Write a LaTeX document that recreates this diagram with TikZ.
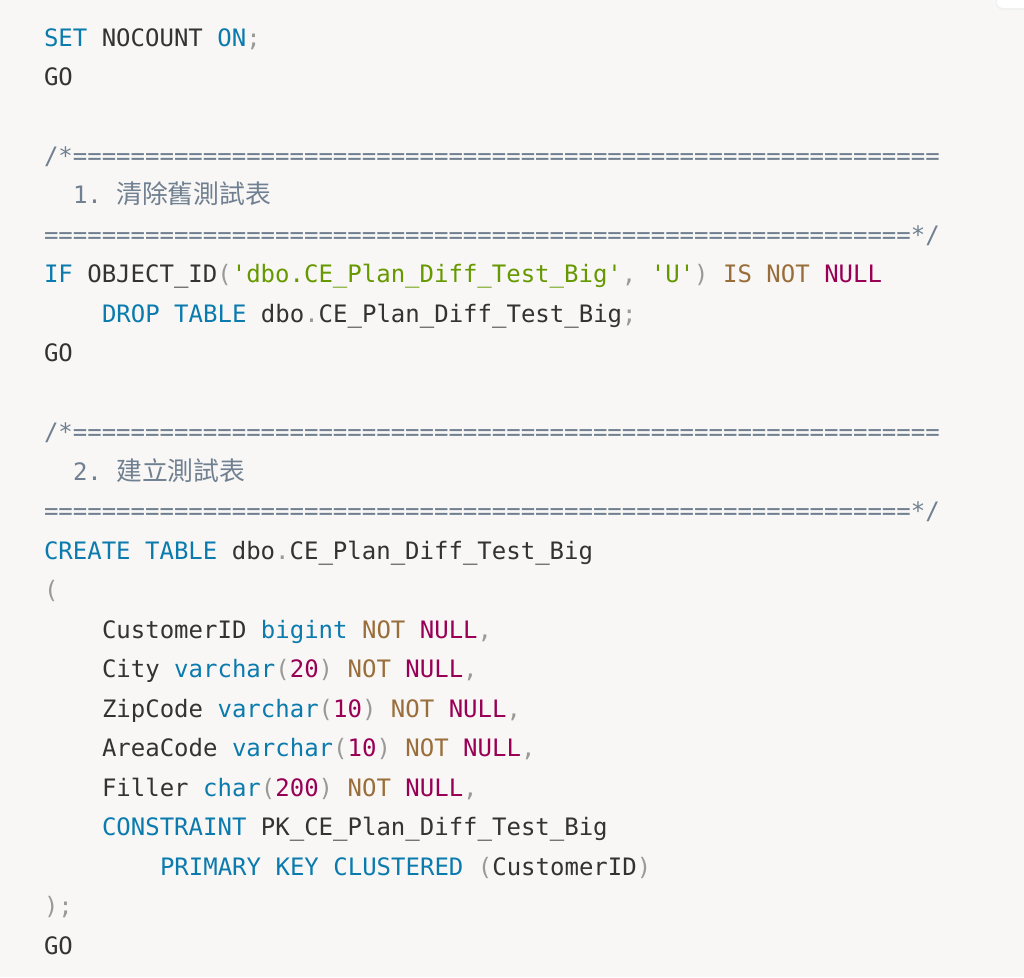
\documentclass[tikz,border=0pt]{standalone}
\usepackage{fontspec}
\usepackage{xcolor}
\setmonofont{DejaVu Sans Mono}
\newfontfamily\cjk{Noto Sans CJK TC}
\definecolor{bgc}{HTML}{F8F7F6}
\definecolor{kwc}{HTML}{0B7BAE}
\definecolor{strc}{HTML}{669900}
\definecolor{numc}{HTML}{990055}
\definecolor{opc}{HTML}{9A6E3A}
\definecolor{punc}{HTML}{999999}
\definecolor{cmc}{HTML}{708090}
\definecolor{txc}{HTML}{333333}
\newcommand\Kw[1]{\textcolor{kwc}{#1}}
\newcommand\St[1]{\textcolor{strc}{#1}}
\newcommand\Nm[1]{\textcolor{numc}{#1}}
\newcommand\Op[1]{\textcolor{opc}{#1}}
\newcommand\Pu[1]{\textcolor{punc}{#1}}
\newcommand\Cm[1]{\textcolor{cmc}{#1}}
\begin{document}
\begin{tikzpicture}[x=1pt,y=-1pt,
  codeline/.style={anchor=base west,inner sep=0pt,outer sep=0pt,font=\fontsize{24}{28}\selectfont\ttfamily,text=txc}]
\useasboundingbox (0,0) rectangle (1024,977);
\fill[bgc] (0,0) rectangle (1024,977);
\fill[black!6,rounded corners=7pt] (996,-10) rectangle (1040,10);
\fill[white,rounded corners=6pt] (997,-10) rectangle (1040,8);
\def\lh{39.48}
\node[codeline] (l0) at (44,46) {\Kw{SET} NOCOUNT \Kw{ON}\Pu{;}};
\node[codeline] (l1) at (44,46+1*\lh) {GO};
\node[codeline] (l3) at (44,46+3*\lh) {\Cm{/*============================================================}};
\node[codeline] (l4) at (73,46+4*\lh) {\Cm{1.\ {\cjk\fontsize{25.8}{28}\selectfont 清除舊測試表}}};
\node[codeline] (l5) at (44,46+5*\lh) {\Cm{============================================================*/}};
\node[codeline] (l6) at (44,46+6*\lh) {\Kw{IF} OBJECT\_ID\Pu{(}\St{'dbo.CE\_Plan\_Diff\_Test\_Big'}\Pu{,} \St{'U'}\Pu{)} \Op{IS} \Op{NOT} \Nm{NULL}};
\node[codeline] (l7) at (102,46+7*\lh) {\Kw{DROP} \Kw{TABLE} dbo\Pu{.}CE\_Plan\_Diff\_Test\_Big\Pu{;}};
\node[codeline] (l8) at (44,46+8*\lh) {GO};
\node[codeline] (l10) at (44,46+10*\lh) {\Cm{/*============================================================}};
\node[codeline] (l11) at (73,46+11*\lh) {\Cm{2.\ {\cjk\fontsize{25.8}{28}\selectfont 建立測試表}}};
\node[codeline] (l12) at (44,46+12*\lh) {\Cm{============================================================*/}};
\node[codeline] (l13) at (44,46+13*\lh) {\Kw{CREATE} \Kw{TABLE} dbo\Pu{.}CE\_Plan\_Diff\_Test\_Big};
\node[codeline] (l14) at (44,46+14*\lh) {\Pu{(}};
\node[codeline] (l15) at (102,46+15*\lh) {CustomerID \Kw{bigint} \Op{NOT} \Nm{NULL}\Pu{,}};
\node[codeline] (l16) at (102,46+16*\lh) {City \Kw{varchar}\Pu{(}\Nm{20}\Pu{)} \Op{NOT} \Nm{NULL}\Pu{,}};
\node[codeline] (l17) at (102,46+17*\lh) {ZipCode \Kw{varchar}\Pu{(}\Nm{10}\Pu{)} \Op{NOT} \Nm{NULL}\Pu{,}};
\node[codeline] (l18) at (102,46+18*\lh) {AreaCode \Kw{varchar}\Pu{(}\Nm{10}\Pu{)} \Op{NOT} \Nm{NULL}\Pu{,}};
\node[codeline] (l19) at (102,46+19*\lh) {Filler \Kw{char}\Pu{(}\Nm{200}\Pu{)} \Op{NOT} \Nm{NULL}\Pu{,}};
\node[codeline] (l20) at (102,46+20*\lh) {\Kw{CONSTRAINT} PK\_CE\_Plan\_Diff\_Test\_Big};
\node[codeline] (l21) at (160,46+21*\lh) {\Kw{PRIMARY} \Kw{KEY} \Kw{CLUSTERED} \Pu{(}CustomerID\Pu{)}};
\node[codeline] (l22) at (44,46+22*\lh) {\Pu{);}};
\node[codeline] (l23) at (44,46+23*\lh) {GO};
\end{tikzpicture}
\end{document}
